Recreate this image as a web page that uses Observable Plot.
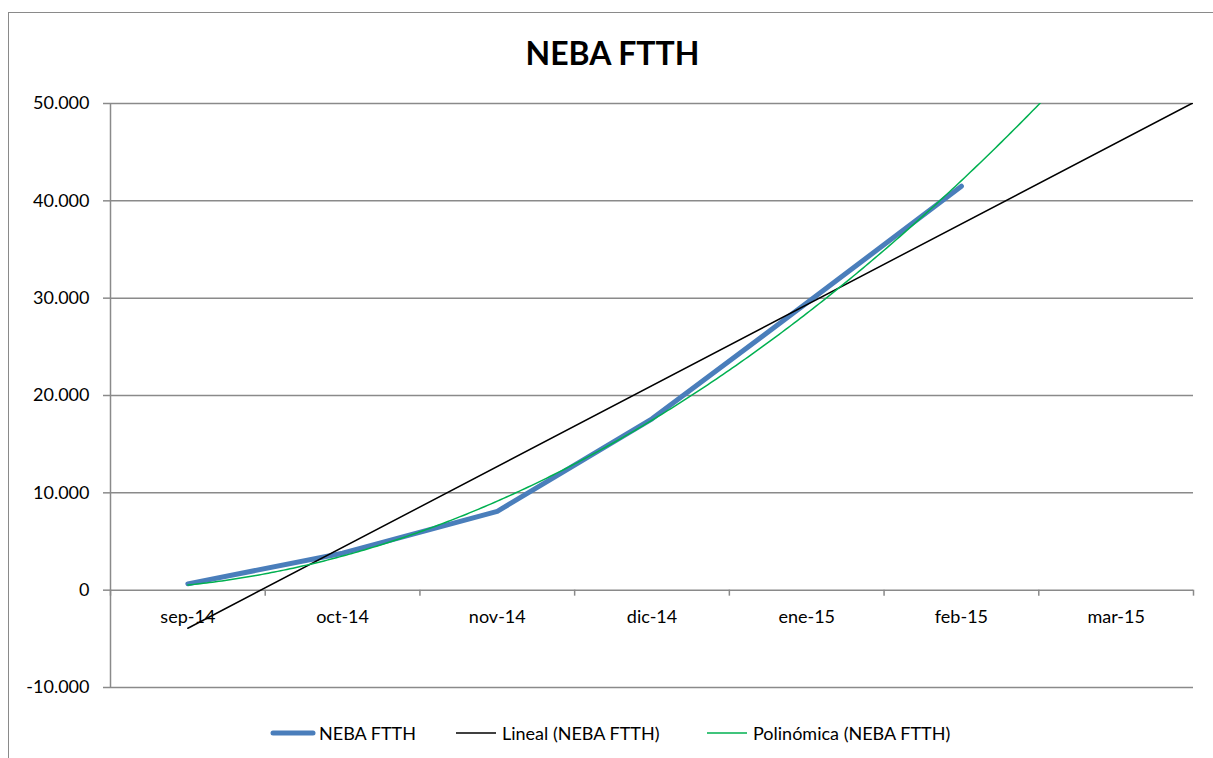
<!DOCTYPE html>
<html>
<head>
<meta charset="utf-8">
<script src="https://cdn.jsdelivr.net/npm/d3@7"></script>
<script src="https://cdn.jsdelivr.net/npm/@observablehq/plot@0.6"></script>
<style>
  html, body { margin: 0; padding: 0; background: #fff; overflow: hidden; }
  #wrap { position: relative; width: 1213px; height: 758px; font-family: Lato, "Open Sans", sans-serif; overflow: hidden; }
  #frame { position: absolute; left: 8px; top: 12px; width: 1400px; height: 900px; border: 1.5px solid #8a8a8a; box-sizing: border-box; }
  #chart { position: absolute; left: 0; top: 0; }
  #title { position: absolute; left: 0; width: 1225px; top: 33px; text-align: center; font-weight: bold; font-size: 32px; color: #000; line-height: 40px; }
  .leg { position: absolute; top: 722px; height: 22px; display: flex; align-items: center; font-size: 18px; color: #000; white-space: nowrap; }
  .leg svg { margin-right: 3px; }
</style>
</head>
<body>
<div id="wrap">
  <div id="frame"></div>
  <div id="chart"></div>
  <div id="title">NEBA FTTH</div>
  <div id="legend"></div>
</div>
<script>
// ---- Data ----
const months = ["sep-14", "oct-14", "nov-14", "dic-14", "ene-15", "feb-15", "mar-15"];
const nebaFtth = [650, 3800, 8100, 17600, 29500, 41500];
const yTicks = [-10000, 0, 10000, 20000, 30000, 40000, 50000];
const seriesNames = ["NEBA FTTH", "Lineal (NEBA FTTH)", "Polinómica (NEBA FTTH)"];
const seriesColors = ["#4a7ebb", "#000000", "#00b050"];
const forwardForecast = 1.5; // Excel trendline forward forecast (periods)

// ---- Build table ----
const pts = nebaFtth.map((v, i) => ({x: i + 1, y: v, month: months[i]}));

// Excel-style trendlines computed from the series (least squares)
const n = pts.length;
const xs = pts.map(d => d.x), ys = pts.map(d => d.y);
const mx = d3.mean(xs), my = d3.mean(ys);
const slope = d3.sum(pts, d => (d.x - mx) * (d.y - my)) / d3.sum(pts, d => (d.x - mx) ** 2);
const icpt = my - slope * mx;
const xEnd = n + forwardForecast;
const linear = [{x: 1, y: icpt + slope}, {x: xEnd, y: icpt + slope * xEnd}];

// quadratic fit y = a + b x + c x^2 via normal equations
function solve3(A, B) {
  const M = A.map((r, i) => [...r, B[i]]);
  for (let i = 0; i < 3; i++) {
    let p = i;
    for (let k = i + 1; k < 3; k++) if (Math.abs(M[k][i]) > Math.abs(M[p][i])) p = k;
    [M[i], M[p]] = [M[p], M[i]];
    for (let k = i + 1; k < 3; k++) {
      const f = M[k][i] / M[i][i];
      for (let j = i; j < 4; j++) M[k][j] -= f * M[i][j];
    }
  }
  const r = [0, 0, 0];
  for (let i = 2; i >= 0; i--) {
    let s = M[i][3];
    for (let j = i + 1; j < 3; j++) s -= M[i][j] * r[j];
    r[i] = s / M[i][i];
  }
  return r;
}
const S = k => d3.sum(xs, x => x ** k);
const T = k => d3.sum(pts, d => d.x ** k * d.y);
const [qa, qb, qc] = solve3(
  [[n, S(1), S(2)], [S(1), S(2), S(3)], [S(2), S(3), S(4)]],
  [T(0), T(1), T(2)]
);
const poly = d3.range(1, xEnd + 1e-9, 0.02).map(x => ({x, y: qa + qb * x + qc * x * x}));

const boundaries = d3.range(0, months.length + 1).map(i => i + 0.5);
const catPos = months.map((m, i) => ({x: i + 1, label: m}));

const fmtLocale = d3.formatLocale({decimal: ",", thousands: ".", grouping: [3], currency: ["", "€"], minus: "-"});
const fmt = fmtLocale.format(",d");

const plot = Plot.plot({
  width: 1213,
  height: 758,
  marginLeft: 110,
  marginRight: 20,
  marginTop: 103,
  marginBottom: 71,
  style: {fontFamily: "Lato, 'Open Sans', sans-serif", fontSize: "18px", background: "transparent", overflow: "visible"},
  x: {type: "linear", domain: [0.5, months.length + 0.5], axis: null},
  y: {domain: [-10000, 50000], axis: null},
  marks: [
    Plot.ruleY(yTicks, {stroke: "#8a8a8a", strokeWidth: 1.5}),
    Plot.ruleX([0.5], {stroke: "#8a8a8a", strokeWidth: 1.5}),
    Plot.ruleY(yTicks, {x1: 0.5, x2: 0.5, insetLeft: -7, stroke: "#8a8a8a", strokeWidth: 1.5}),
    Plot.ruleX(boundaries, {y1: 0, y2: 0, insetBottom: -6, stroke: "#8a8a8a", strokeWidth: 1.5}),
    Plot.text(yTicks, {x: 0.5, y: d => d, text: d => fmt(d), textAnchor: "end", dx: -21, fill: "#000", fontSize: 18}),
    Plot.text(catPos, {x: "x", y: 0, text: "label", dy: 27, fill: "#000", fontSize: 18}),
    Plot.line(pts, {x: "x", y: "y", stroke: seriesColors[0], strokeWidth: 5, strokeLinecap: "round", strokeLinejoin: "round"}),
    Plot.line(linear, {x: "x", y: "y", stroke: seriesColors[1], strokeWidth: 1.5, clip: true}),
    Plot.line(poly, {x: "x", y: "y", stroke: seriesColors[2], strokeWidth: 1.5, clip: true})
  ]
});
document.getElementById("chart").appendChild(plot);

// Legend
const legendX = [270, 453, 704];
const widths = [5, 1.6, 1.6];
const legend = document.getElementById("legend");
seriesNames.forEach((name, i) => {
  const div = document.createElement("div");
  div.className = "leg";
  div.style.left = legendX[i] + "px";
  div.innerHTML = `<svg width="46" height="10"><line x1="3" x2="43" y1="5" y2="5" stroke="${seriesColors[i]}" stroke-width="${widths[i]}" stroke-linecap="${i === 0 ? "round" : "butt"}"/></svg><span>${name}</span>`;
  legend.appendChild(div);
});
</script>
</body>
</html>
